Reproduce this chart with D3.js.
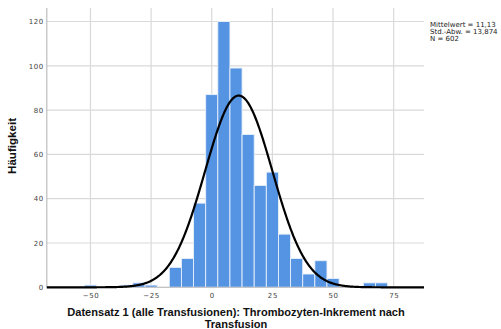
<!DOCTYPE html>
<html>
<head>
<meta charset="utf-8">
<script src="https://cdn.jsdelivr.net/npm/d3@7"></script>
<style>
  html, body { margin: 0; padding: 0; background: #fff; }
  svg { display: block; }
</style>
</head>
<body>
<svg id="chart" width="501" height="329"></svg>
<script>
// Histogram bins (centre of each 5-unit bin) and their counts
const binCenters = [-50, -45, -40, -35, -30, -25, -20, -15, -10, -5, 0, 5, 10, 15, 20, 25, 30, 35, 40, 45, 50, 55, 60, 65, 70];
const counts     = [1, 0, 0, 1, 2, 1, 0, 9, 13, 38, 87, 120, 99, 69, 46, 52, 24, 13, 6, 12, 4, 0, 0, 2, 2];
const binWidth = 5;

// Summary statistics for the fitted normal curve
const mean = 11.13;
const sd = 13.874;
const n = 602;
const statLines = ["Mittelwert = 11,13", "Std.-Abw. = 13,874", "N = 602"];

const xTicks = [-50, -25, 0, 25, 50, 75];
const yTicks = [0, 20, 40, 60, 80, 100, 120];
const xTitle = ["Datensatz 1 (alle Transfusionen): Thrombozyten-Inkrement nach", "Transfusion"];
const yTitle = "Häufigkeit";

const svg = d3.select("#chart");
const plotL = 46.8, plotR = 424, plotT = 8, plotB = 287.3;

const x = d3.scaleLinear().domain([-68, 87.5]).range([plotL, plotR]);
const y = d3.scaleLinear().domain([0, 126.1]).range([plotB, plotT]);

// grid
const grid = svg.append("g");
grid.selectAll("line.v").data(xTicks).join("line")
  .attr("x1", d => x(d)).attr("x2", d => x(d))
  .attr("y1", plotT).attr("y2", plotB)
  .attr("stroke", "#d9d9d9").attr("stroke-width", 1.2);
grid.selectAll("line.h").data(yTicks).join("line")
  .attr("x1", plotL).attr("x2", plotR)
  .attr("y1", d => y(d)).attr("y2", d => y(d))
  .attr("stroke", "#d9d9d9").attr("stroke-width", 1.2);

// left axis line
svg.append("line")
  .attr("x1", plotL).attr("x2", plotL).attr("y1", plotT).attr("y2", plotB)
  .attr("stroke", "#bdbdbd").attr("stroke-width", 1.2);

// bars
svg.append("g").selectAll("rect")
  .data(binCenters.map((c, i) => ({c, v: counts[i]})).filter(d => d.v > 0))
  .join("rect")
  .attr("x", d => x(d.c - binWidth / 2))
  .attr("width", d => x(d.c + binWidth / 2) - x(d.c - binWidth / 2))
  .attr("y", d => y(d.v))
  .attr("height", d => y(0) - y(d.v))
  .attr("fill", "#5593e3")
  .attr("stroke", "#e8f0fb")
  .attr("stroke-width", 0.9);

// bottom baseline
svg.append("line")
  .attr("x1", plotL).attr("x2", plotR).attr("y1", plotB).attr("y2", plotB)
  .attr("stroke", "#bdbdbd").attr("stroke-width", 1);

// fitted normal curve
const curvePts = d3.range(-68, 87.51, 0.25).map(v => [v,
  n * binWidth / (sd * Math.sqrt(2 * Math.PI)) * Math.exp(-0.5 * ((v - mean) / sd) ** 2)]);
svg.append("path")
  .datum(curvePts)
  .attr("d", d3.line().x(d => x(d[0])).y(d => y(d[1])))
  .attr("fill", "none").attr("stroke", "#000").attr("stroke-width", 2.2);

// axes
const xAxis = svg.append("g").attr("transform", `translate(0,${plotB})`)
  .call(d3.axisBottom(x).tickValues(xTicks).tickSize(0).tickPadding(6).tickFormat(d3.format("d")));
const yAxis = svg.append("g").attr("transform", `translate(${plotL},0)`)
  .call(d3.axisLeft(y).tickValues(yTicks).tickSize(0).tickPadding(3).tickFormat(d3.format("d")));
[xAxis, yAxis].forEach(a => {
  a.select(".domain").remove();
  a.selectAll("text")
    .attr("font-family", "DejaVu Sans, sans-serif")
    .attr("font-size", 7)
    .attr("letter-spacing", 0.6)
    .attr("fill", "#444");
});
xAxis.selectAll("text").attr("dy", "0.71em");

// scale a text's font size so it spans the given width
function fitFont(node, width, start) {
  d3.select(node).attr("font-size", start);
  const w = node.getComputedTextLength();
  return w > 0 ? start * width / w : start;
}

// axis titles
const yT = svg.append("text")
  .attr("transform", `translate(16,146) rotate(-90)`)
  .attr("text-anchor", "middle")
  .attr("font-family", "Liberation Sans, Arial, sans-serif")
  .attr("font-weight", "bold")
  .attr("fill", "#111")
  .text(yTitle);
yT.attr("font-size", fitFont(yT.node(), 56, 11));

const xT = svg.append("g").selectAll("text").data(xTitle).join("text")
  .attr("x", 236)
  .attr("y", (d, i) => 315.8 + i * 12.4)
  .attr("text-anchor", "middle")
  .attr("font-family", "Liberation Sans, Arial, sans-serif")
  .attr("font-weight", "bold")
  .attr("fill", "#111")
  .text(d => d);
xT.attr("font-size", fitFont(xT.nodes()[0], 338, 11));

// statistics legend
svg.append("g").selectAll("text").data(statLines).join("text")
  .attr("x", 430)
  .attr("y", (d, i) => 26.5 + i * 7.4)
  .attr("font-family", "DejaVu Sans, sans-serif")
  .attr("font-size", 7)
  .attr("fill", "#222")
  .text(d => d);
</script>
</body>
</html>
